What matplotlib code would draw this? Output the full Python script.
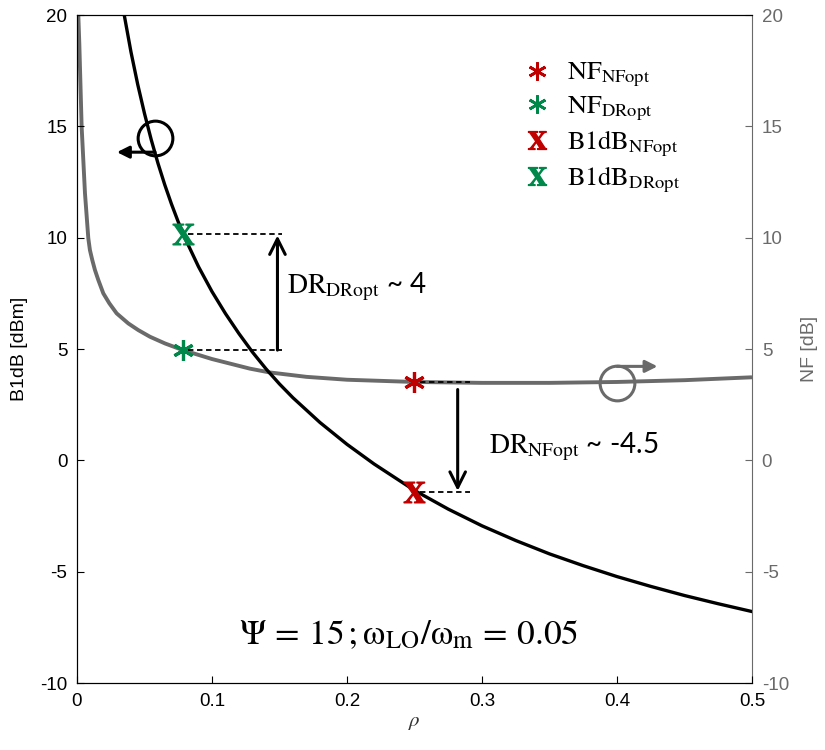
import matplotlib
matplotlib.use("Agg")
import matplotlib.pyplot as plt
from matplotlib.lines import Line2D

plt.rcParams['font.family'] = ['Liberation Sans', 'DejaVu Sans']
plt.rcParams['mathtext.fontset'] = 'stix'
plt.rcParams['axes.unicode_minus'] = False

# B1dB curve (left axis)
rho_b1 = [0.035, 0.04, 0.045, 0.05, 0.055, 0.06, 0.065, 0.07, 0.075, 0.08,
          0.09, 0.1, 0.11, 0.12, 0.13, 0.14, 0.15, 0.16, 0.18, 0.2,
          0.22, 0.25, 0.275, 0.3, 0.325, 0.35, 0.375, 0.4, 0.425, 0.45, 0.475, 0.5]
b1db = [20.0, 18.34, 16.88, 15.58, 14.40, 13.34, 12.38, 11.51, 10.71, 9.98,
        8.70, 7.58, 6.59, 5.69, 4.86, 4.11, 3.43, 2.81, 1.70, 0.72,
        -0.16, -1.35, -2.19, -2.94, -3.60, -4.20, -4.73, -5.22, -5.66, -6.07, -6.44, -6.79]

# NF curve (right axis)
rho_nf = [0.00099, 0.00173, 0.00346, 0.00593, 0.0084, 0.0096, 0.01136, 0.0133, 0.0158,
          0.0195, 0.024, 0.0294, 0.038, 0.0454, 0.0541, 0.0652, 0.0785, 0.1, 0.128,
          0.1425, 0.17, 0.2, 0.25, 0.3, 0.35, 0.4, 0.45, 0.5]
nf = [20.0, 18.72, 14.98, 11.99, 9.97, 9.44, 8.99, 8.55, 8.10,
      7.50, 7.05, 6.60, 6.15, 5.85, 5.55, 5.25, 4.95, 4.55, 4.12,
      3.95, 3.75, 3.62, 3.52, 3.48, 3.48, 3.52, 3.60, 3.73]

# optimum points: [NFopt, DRopt]
rho_opt = [0.25, 0.0785]
nf_opt = [3.53, 4.95]
b1_opt = [-1.42, 10.15]
dr_vals = ['-4.5', '4']

red = '#C00000'
green = '#00874A'
gray = '#6a6a6a'
ast = (6, 2, 0)
xmark = r'$\mathbf{X}$'

fig = plt.figure(figsize=(8.25, 7.5), dpi=100)
ax = fig.add_axes([0.0933, 0.0893, 0.8182, 0.8907])
ax2 = ax.twinx()
ax.set_zorder(ax2.get_zorder() + 1)
ax.patch.set_visible(False)

ax2.plot(rho_nf, nf, color=gray, lw=2.8, solid_capstyle='butt')
ax.plot(rho_b1, b1db, color='black', lw=2.4)

for lim_ax in (ax, ax2):
    lim_ax.set_xlim(0, 0.5)
    lim_ax.set_ylim(-10, 20)
    lim_ax.set_yticks(range(-10, 21, 5))

ax.set_xticks([0, 0.1, 0.2, 0.3, 0.4, 0.5])
ax.set_xticklabels(['0', '0.1', '0.2', '0.3', '0.4', '0.5'])
ax.tick_params(direction='in', length=5, labelsize=13.5, pad=7)
ax2.tick_params(direction='in', length=5, labelsize=13.5, colors=gray, pad=7)
ax2.spines['right'].set_color(gray)
ax.spines['right'].set_visible(False)
ax.set_ylabel('B1dB [dBm]', fontsize=14, labelpad=9)
ax2.set_ylabel('NF [dB]', fontsize=14, color=gray, labelpad=9)
ax.set_xlabel(r'$\rho$', fontsize=15, color='#333333', labelpad=2)

# markers
ax.plot(rho_opt[0], nf_opt[0], ls='none', marker=ast, ms=15, mew=2.3, color=red)
ax.plot(rho_opt[1], nf_opt[1], ls='none', marker=ast, ms=15, mew=2.3, color=green)
ax.plot(rho_opt[0], b1_opt[0], ls='none', marker=xmark, ms=15, color=red)
ax.plot(rho_opt[1], b1_opt[1], ls='none', marker=xmark, ms=15, color=green)

# dashed guides and DR arrows
dash_len = [0.041, 0.073]
arrow_off = [0.032, 0.07]
for i in range(2):
    x0 = rho_opt[i]
    for yv in (nf_opt[i], b1_opt[i]):
        ax.plot([x0 + 0.004, x0 + dash_len[i]], [yv, yv], color='black', lw=1.3,
                ls=(0, (3, 2)))
    xa = x0 + arrow_off[i]
    if i == 0:
        start, end = nf_opt[i] - 0.35, b1_opt[i] + 0.05
    else:
        start, end = nf_opt[i], b1_opt[i] - 0.05
    ax.annotate('', xy=(xa, end), xytext=(xa, start),
                arrowprops=dict(arrowstyle='->', lw=2.2, color='black',
                                mutation_scale=28, shrinkA=0, shrinkB=0))

ax.text(0.3055, 0.6, r'$\mathrm{DR}_{\mathrm{NFopt}}$ ~ ' + dr_vals[0], fontsize=20,
        family='Lato', va='center', ha='left')
ax.text(0.1556, 7.8, r'$\mathrm{DR}_{\mathrm{DRopt}}$ ~ ' + dr_vals[1], fontsize=20,
        family='Lato', va='center', ha='left')

# axis indicator circles
ax.plot(0.0578, 14.47, marker='o', ms=25, mfc='none', mec='black', mew=2.2)
ax.annotate('', xy=(0.0296, 13.84), xytext=(0.0578, 13.84),
            arrowprops=dict(arrowstyle='-|>', lw=2.2, color='black',
                            mutation_scale=18, shrinkA=0, shrinkB=0))
ax.plot(0.4, 3.47, marker='o', ms=25, mfc='none', mec=gray, mew=2.2)
ax.annotate('', xy=(0.43, 4.22), xytext=(0.4, 4.22),
            arrowprops=dict(arrowstyle='-|>', lw=2.2, color=gray,
                            mutation_scale=18, shrinkA=0, shrinkB=0))

ax.text(0.246, -7.85, r'$\Psi\, =\, 15\,;\mathrm{\omega}_{\mathrm{LO}}/\mathrm{\omega}_{\mathrm{m}}\, =\, 0.05$',
        fontsize=25.5, ha='center', va='center')

handles = [
    Line2D([], [], ls='none', marker=ast, ms=13, mew=2, color=red),
    Line2D([], [], ls='none', marker=ast, ms=13, mew=2, color=green),
    Line2D([], [], ls='none', marker=xmark, ms=13, color=red),
    Line2D([], [], ls='none', marker=xmark, ms=13, color=green),
]
labels = [r'$\mathrm{NF}_{\mathrm{NFopt}}$', r'$\mathrm{NF}_{\mathrm{DRopt}}$',
          r'$\mathrm{B1dB}_{\mathrm{NFopt}}$', r'$\mathrm{B1dB}_{\mathrm{DRopt}}$']
ax.legend(handles, labels, loc='upper left', bbox_to_anchor=(0.625, 0.967), frameon=False,
          fontsize=19, handlelength=1.1, handletextpad=0.6, labelspacing=0.2)

fig.savefig('out.png', dpi=100)
